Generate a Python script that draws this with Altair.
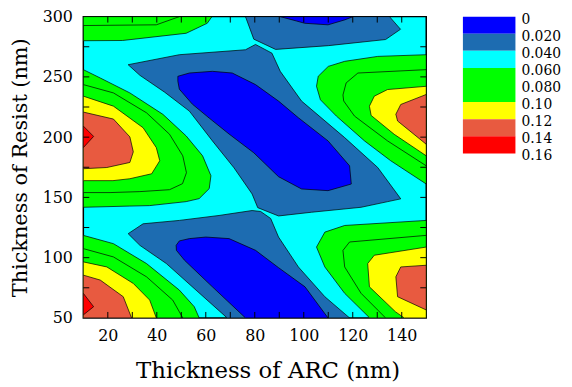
import altair as alt
import pandas as pd

# ---------------- data (nm) ----------------
# contour regions: list of (ARC thickness, Resist thickness) vertices
TOP_LEFT_06 = [(10, 300), (10, 280), (26, 280.2), (52, 286.2), (60.6, 294.5), (62.5, 300)]
TOP_LEFT_08 = [(10, 300), (10, 292.6), (39.8, 293.2), (49.2, 300)]

LEFT_MID_06 = [(10, 256), (16.9, 249.1), (29, 236.7), (42.5, 218.9), (52, 201), (58.7, 184.5),
               (62.1, 168), (61.4, 157.3), (57.3, 149), (52, 146.5), (37.1, 143.2), (29, 142.8), (10, 141.8)]
LEFT_MID_08 = [(10, 243.6), (22.3, 236.7), (35.8, 220.2), (45.2, 202.4), (50.6, 184.5), (52.1, 170.5),
               (50.5, 161.4), (45.2, 156.4), (33.1, 154.8), (20.9, 154), (10, 154)]
LEFT_MID_10 = [(10, 234), (22.3, 225.7), (34.4, 207.8), (39.8, 191.3), (41.2, 180.4), (37.9, 169.6),
               (29, 165.5), (22.1, 163.9), (10, 163.9)]
LEFT_MID_12 = [(10, 220.8), (22.3, 215), (29, 200.2), (30.4, 187.8), (29, 179), (19.6, 174.8), (10, 173.8)]
LEFT_MID_14 = [(10, 209.2), (14.2, 200.6), (10, 191.3)]

LEFT_BOT_06 = [(10, 118.5), (22.3, 111.6), (35.8, 95.1), (49.2, 73.1), (55.3, 59.3), (57.3, 50), (10, 50)]
LEFT_BOT_08 = [(10, 107.5), (22.3, 100.6), (35.8, 84.1), (46.5, 64.8), (50.6, 50), (10, 50)]
LEFT_BOT_10 = [(10, 96.5), (19.6, 92.3), (30.4, 78.6), (37.1, 64.8), (39.8, 50), (10, 50)]
LEFT_BOT_12 = [(10, 85.5), (16.9, 81.4), (26.3, 67.6), (29.7, 50), (10, 50)]
LEFT_BOT_14 = [(10, 70.4), (14.2, 59.3), (10, 52.5)]

RIGHT_TOP_06 = [(150, 268.4), (130.2, 267), (116.7, 262.9), (110, 258.7), (105.9, 250.5), (105.2, 242.2),
                (106.8, 231), (113.3, 217.5), (124.8, 196.9), (135.5, 180.4), (150, 161.1)]
RIGHT_TOP_08 = [(150, 256), (122.1, 253.2), (117.3, 245), (116, 235), (116.3, 230), (120.7, 217.5),
                (134.2, 196.9), (150, 176.2)]
RIGHT_TOP_10 = [(150, 242.2), (134.2, 239.5), (128.8, 234), (126.8, 225.7), (127.5, 218), (136.9, 202.4),
                (150, 184.5)]
RIGHT_TOP_12 = [(150, 235.4), (139.6, 227.1), (137.6, 219), (138.3, 213.4), (150, 194.1)]

RIGHT_BOT_06 = [(150, 130.9), (116.7, 126.7), (108.6, 121.2), (105.2, 108.8), (108.6, 92.3), (116.7, 70.4),
                (126.9, 50), (150, 50)]
RIGHT_BOT_08 = [(150, 118.5), (118.7, 113), (116, 106), (116.7, 92.3), (123.4, 70.4), (133.4, 50), (150, 50)]
RIGHT_BOT_10 = [(150, 108.8), (128.8, 102), (126.1, 95.1), (126.8, 75.8), (137.5, 55), (141, 50), (150, 50)]
RIGHT_BOT_12 = [(150, 93.7), (139.6, 92.3), (137.6, 84.1), (138.3, 67.6), (150, 56.6)]

STEEL_TOP = [(76.2, 300), (79.6, 281.3), (88.5, 272.8), (110, 275.9), (133.4, 281), (139.5, 289.5), (135, 300)]
STEEL_A = [(28.3, 260.1), (33.1, 251.3), (43.2, 237.3), (53.3, 221.6), (62.7, 196.9), (71.5, 174.6),
           (78.9, 152.9), (81.2, 141.5), (89.7, 134.6), (103.2, 137.7), (123.4, 141.8), (134.3, 146.5),
           (139.6, 148.8), (130.2, 174.8), (116.7, 199.6), (99.1, 229.9), (90.4, 254.6), (87, 269.7),
           (80.3, 276.9), (76.2, 272.5), (49.2, 268.4)]
STEEL_B = [(28.3, 119.9), (34.4, 128.1), (49.2, 130.9), (65.4, 135), (78.9, 139.1), (82.4, 138.3),
           (86.5, 132.5), (89.7, 117.1), (97.8, 92.3), (108.6, 67.6), (118.7, 50), (68.7, 50),
           (43.9, 95.1), (33.1, 110.2)]

BLUE_TOP = [(90.4, 300), (97, 296.4), (100.4, 294.5), (109.9, 293.2), (116.7, 297.3), (120.1, 300)]
BLUE_A = [(48.6, 250.5), (53.3, 253.2), (62.7, 254.6), (70.8, 253.2), (80.3, 243.6), (89.7, 229.9),
          (97.8, 216.1), (109.9, 196.9), (118.7, 176.2), (119.4, 161.1), (109.9, 155.6), (99.1, 157),
          (89.7, 167.2), (79.6, 187), (69.5, 202.6), (61.4, 215.8), (54.5, 227.4), (49.2, 239.8), (48.6, 246.4)]
BLUE_B = [(47.9, 110.2), (49.2, 113.9), (53.3, 115.8), (60, 117.1), (69.5, 115.8), (80.3, 106.1),
          (89.7, 91.7), (100.5, 75.8), (109.9, 50), (76.2, 50), (62.7, 75.8), (51.3, 97.9), (48, 106.1)]

# legend
LEVELS = [0, 0.02, 0.04, 0.06, 0.08, 0.10, 0.12, 0.14, 0.16]
LEVEL_LABELS = ["0", "0.020", "0.040", "0.060", "0.080", "0.10", "0.12", "0.14", "0.16"]
BAND_COLORS = ["#0000FF", "#1D6CB1", "#00FFFF", "#00FF00", "#00FF00", "#FFFF00", "#E85A40", "#FF0000"]

# axis ticks / labels
X_LABELS = [20, 40, 60, 80, 100, 120, 140]
Y_LABELS = [50, 100, 150, 200, 250, 300]
X_TICKS = [20, 30, 40, 50, 60, 70, 80, 90, 100, 110, 120, 130, 140]
Y_TICKS = [75, 100, 125, 150, 175, 200, 225, 250, 275]

# paint order: band -> polygons
PAINT = [
    ("b1", [STEEL_TOP, STEEL_A, STEEL_B]),
    ("b0", [BLUE_TOP, BLUE_A, BLUE_B]),
    ("b3", [TOP_LEFT_06, LEFT_MID_06, LEFT_BOT_06, RIGHT_TOP_06, RIGHT_BOT_06]),
    ("b4", [TOP_LEFT_08, LEFT_MID_08, LEFT_BOT_08, RIGHT_TOP_08, RIGHT_BOT_08]),
    ("b5", [LEFT_MID_10, LEFT_BOT_10, RIGHT_TOP_10, RIGHT_BOT_10]),
    ("b6", [LEFT_MID_12, LEFT_BOT_12, RIGHT_TOP_12, RIGHT_BOT_12]),
    ("b7", [LEFT_MID_14, LEFT_BOT_14]),
]
FILL = {"b%d" % k: c for k, c in enumerate(BAND_COLORS)}

rows = []
for band, polys in PAINT:
    for pi, pts in enumerate(polys):
        for i, (x, y) in enumerate(pts):
            rows.append({"band": band, "pid": f"{band}_{pi}", "i": i, "x": x, "y": y})
df = pd.DataFrame(rows)

W, H = 346, 304
FONT = "DejaVu Serif"

xs = alt.Scale(domain=[10, 150], nice=False, zero=False)
ys = alt.Scale(domain=[50, 300], nice=False, zero=False)
x_enc = alt.X("x:Q", scale=xs, axis=alt.Axis(
    values=X_LABELS, title="Thickness of ARC (nm)", ticks=False, domain=False, grid=False,
    labelFont=FONT, labelFontSize=16, labelColor="black", labelPadding=10,
    titleFont=FONT, titleFontSize=23, titleFontWeight="normal", titleColor="black", titlePadding=16,
    titleX=186, titleAlign="center"))
y_enc = alt.Y("y:Q", scale=ys, axis=alt.Axis(
    values=Y_LABELS, title="Thickness of Resist (nm)", ticks=False, domain=False, grid=False,
    labelFont=FONT, labelFontSize=16, labelColor="black", labelPadding=11,
    titleFont=FONT, titleFontSize=21, titleFontWeight="normal", titleColor="black", titlePadding=12))

layers = []
for band, _ in PAINT:
    layers.append(
        alt.Chart(df).transform_filter(alt.datum.band == band)
        .mark_line(fill=FILL[band], stroke="black", strokeWidth=0.7, interpolate="linear-closed", clip=True)
        .encode(x=x_enc, y=y_enc, detail="pid:N", order="i:Q")
    )

xt = pd.DataFrame({"x": X_TICKS})
yt = pd.DataFrame({"y": Y_TICKS})
tick_bottom = alt.Chart(xt).mark_rule(color="black", strokeWidth=1).encode(
    x=x_enc, y=alt.value(H), y2=alt.value(H - 6))
tick_top = alt.Chart(xt).mark_rule(color="black", strokeWidth=1).encode(
    x=x_enc, y=alt.value(0), y2=alt.value(6))
tick_left = alt.Chart(yt).mark_rule(color="black", strokeWidth=1).encode(
    y=y_enc, x=alt.value(0), x2=alt.value(6))
tick_right = alt.Chart(yt).mark_rule(color="black", strokeWidth=1).encode(
    y=y_enc, x=alt.value(W), x2=alt.value(W - 6))

main = alt.layer(*layers, tick_bottom, tick_top, tick_left, tick_right).properties(
    width=W, height=H,
    view=alt.ViewBackground(fill="#00FFFF", stroke="black", strokeWidth=1.5))

# legend panel
leg_df = pd.DataFrame({"lo": LEVELS[:-1], "hi": LEVELS[1:], "c": BAND_COLORS})
lab_df = pd.DataFrame({"v": LEVELS, "t": LEVEL_LABELS})
ls = alt.Scale(domain=[0, 0.16], reverse=True, nice=False, zero=False)
leg_rect = alt.Chart(leg_df).mark_rect().encode(
    y=alt.Y("lo:Q", scale=ls, axis=None), y2="hi:Q",
    x=alt.value(0), x2=alt.value(53),
    color=alt.Color("c:N", scale=None))
leg_text = alt.Chart(lab_df).mark_text(align="left", baseline="middle", dy=3, font=FONT,
                                       fontSize=14, color="black").encode(
    y=alt.Y("v:Q", scale=ls, axis=None), x=alt.value(59), text="t:N")
legend = alt.layer(leg_rect, leg_text).properties(
    width=53, height=138, view=alt.ViewBackground(strokeOpacity=0))

chart = alt.hconcat(main, legend, spacing=35).properties(
    padding={"left": 0, "top": -2, "right": 2, "bottom": 2},
    background="white")

chart.save("out.html", embed_options={"renderer": "svg", "actions": False})
